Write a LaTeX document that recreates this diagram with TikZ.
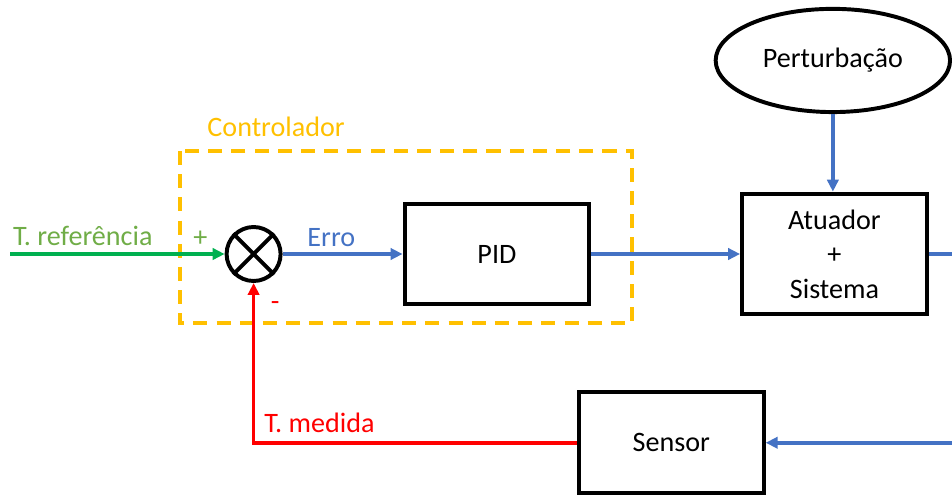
\documentclass[tikz,border=0pt]{standalone}
\usepackage{fontspec}
\setmainfont{Carlito}
\usetikzlibrary{positioning, arrows.meta, shapes.geometric}

\definecolor{ctrlorange}{HTML}{FFC000}
\definecolor{refgreen}{HTML}{00B050}
\definecolor{reftext}{HTML}{70AD47}
\definecolor{sigblue}{HTML}{4472C4}
\definecolor{fbred}{HTML}{FF0000}

\begin{document}
\begin{tikzpicture}[
    block/.style={draw, rectangle, line width=2.8pt, minimum width=4.62cm, minimum height=2.52cm, align=center},
    summer/.style={draw, circle, line width=2.8pt, minimum size=1.35cm, inner sep=0pt},
    disturb/.style={draw, ellipse, line width=2.8pt, minimum width=5.86cm, minimum height=2.58cm},
    arrow/.style={-{Triangle[length=8.5pt, width=8pt]}, line width=2.6pt},
    signal/.style={arrow, color=sigblue},
    ctrlbox/.style={draw=ctrlorange, line width=2.5pt, dash pattern=on 10pt off 6.5pt},
    tag/.style={inner sep=0pt, anchor=base west},
    font=\fontsize{20}{24.5}\selectfont
]
\useasboundingbox (0,0) rectangle (23.8,-12.375);
\clip (0,0) rectangle (23.8,-12.375);

% Controller frame
\draw[ctrlbox] (4.5,-3.775) rectangle (15.8,-8.08);
\node[tag, text=ctrlorange] (ctrllabel) at (5.18,-3.42) {Controlador};

% Blocks
\node[summer] (sum) at (6.34,-6.35) {};
\draw[line width=2.8pt] (sum.45) -- (sum.225) (sum.135) -- (sum.315);
\node[block, right=3cm of sum] (pid) {PID};
\node[block, minimum height=3.02cm, right=3.72cm of pid] (atu) {Atuador\\+\\Sistema};
\node[disturb, above=1.94cm of atu, xshift=-0.04cm] (pert) {Perturbação};
\node[block, below=2.1cm of pid, xshift=4.36cm] (sensor) {Sensor};

% Free ends
\coordinate (refin) at (0.25,-6.35);
\coordinate[right=1cm of atu.east] (outR);

% Arrows
\draw[arrow, color=refgreen] (refin) -- (sum.west);
\draw[signal] (sum.east) -- (pid.west);
\draw[signal] (pid.east) -- (atu.west);
\draw[signal] (pert.south) -- (pert.south |- atu.north);
\draw[signal] (atu.east) -- (outR) |- (sensor.east);
\draw[arrow, color=fbred] (sensor.west) -| (sum.south);

% Labels
\node[tag, text=reftext] (reflabel) at (0.32,-6.14) {T. referência};
\node[text=reftext, inner sep=0pt] (plus) at (5.01,-5.98) {+};
\node[text=fbred, inner sep=0pt] (minus) at (6.88,-7.65) {-};
\node[tag, text=sigblue] (errlabel) at (7.68,-6.17) {Erro};
\node[tag, text=fbred] (measlabel) at (6.6,-10.8) {T. medida};

\end{tikzpicture}
\end{document}
